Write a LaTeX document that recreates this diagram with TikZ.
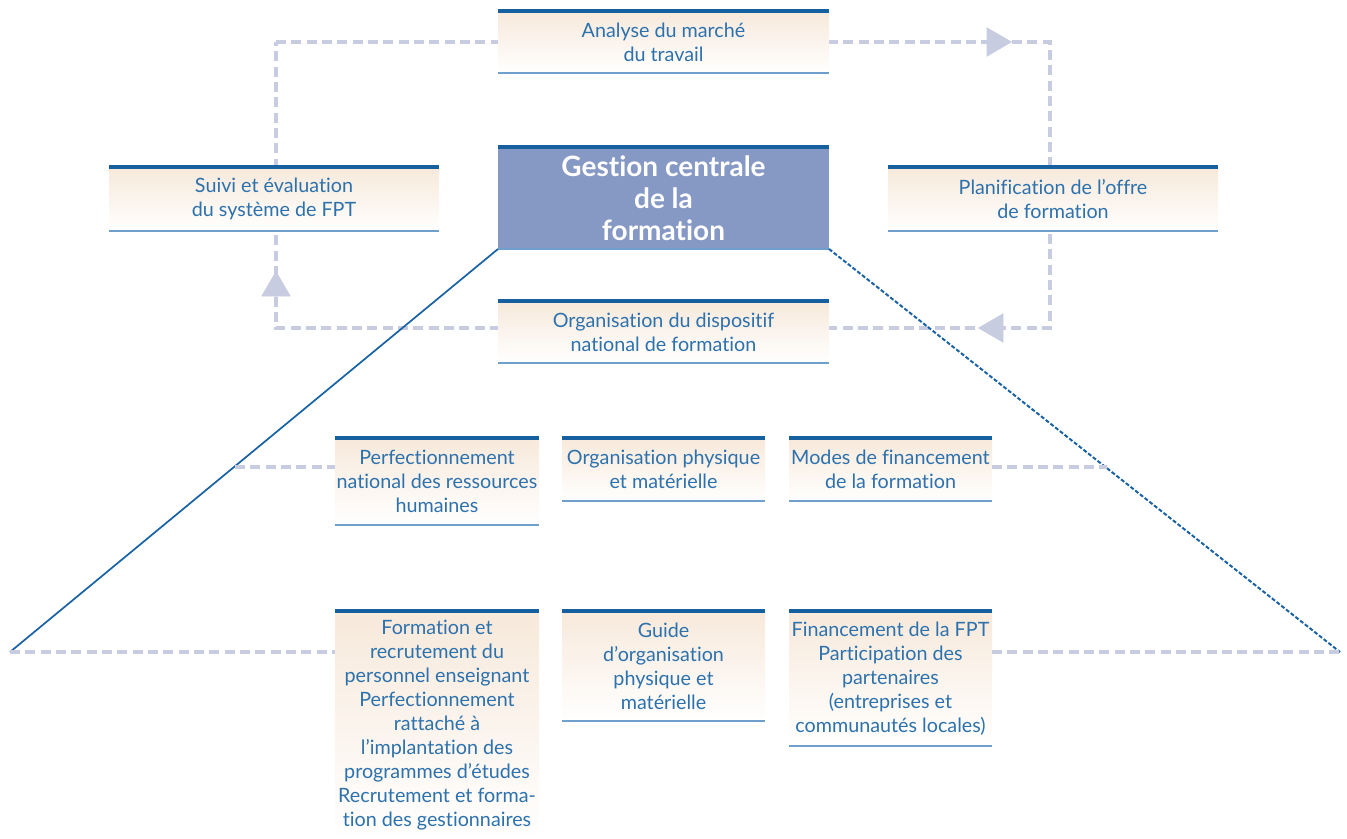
\documentclass[tikz,border=0pt]{standalone}
\usepackage{fontspec}
\setmainfont{Lato}[Ligatures={NoCommon,NoContextual}]
\usetikzlibrary{arrows.meta}
\definecolor{peach}{RGB}{247,233,219}
\definecolor{txtblue}{RGB}{45,113,173}
\definecolor{rulebl}{RGB}{22,96,160}
\definecolor{rulelt}{RGB}{111,160,204}
\definecolor{loopc}{RGB}{199,204,225}
\definecolor{centfill}{RGB}{134,152,196}
\definecolor{diagc}{RGB}{27,99,165}
\begin{document}
\begin{tikzpicture}[x=0.75pt,y=-0.75pt,
  box/.style={rectangle, inner sep=0pt, outer sep=0pt, top color=peach, bottom color=white,
    text=txtblue, align=center, font=\fontsize{14.8}{18}\selectfont},
  central/.style={rectangle, inner sep=0pt, outer sep=0pt, fill=centfill, text=white,
    align=center, font=\fontsize{21}{24}\selectfont\bfseries},
  toprule/.style={rulebl, line width=3pt},
  botrule/.style={rulelt, line width=1pt},
  loopline/.style={loopc, line width=3pt, dash pattern=on 7.5pt off 4pt},
  looptip/.style={loopc, line width=0.5pt, -{Triangle[length=19pt,width=22pt]}},
  diag/.style={diagc, line width=1.3pt},
  diagdot/.style={diagc, line width=1.5pt, dash pattern=on 3pt off 1.5pt},
  ]
\useasboundingbox (0,0) rectangle (1347,839);

% feedback loop
\coordinate (cTL) at (276,42);
\coordinate (cTR) at (1050,42);
\coordinate (cBR) at (1050,328);
\coordinate (cBL) at (276,328);
\draw[loopline] (cTL) -- (cTR) -- (cBR) -- (cBL) -- cycle;
\coordinate (a1s) at (985,42);  \coordinate (a1t) at (1012,42);
\coordinate (a2s) at (1005,328); \coordinate (a2t) at (978,328);
\coordinate (a3s) at (276,297);  \coordinate (a3t) at (276,271);
\draw[looptip] (a1s) -- (a1t);
\draw[looptip] (a2s) -- (a2t);
\draw[looptip] (a3s) -- (a3t);

% top-level boxes
\node[box, minimum width=248.25pt, minimum height=46.5pt] (am) at (663.5,42)
  {Analyse du marché\\du travail};
\node[central, minimum width=248.25pt, minimum height=76.5pt] (gc) at (663.5,198)
  {Gestion centrale\\de la\\formation};
\node[box, minimum width=247.5pt, minimum height=48pt] (se) at (274,199)
  {Suivi et évaluation\\du système de FPT};
\node[box, minimum width=247.5pt, minimum height=48pt] (pl) at (1053,199)
  {Planification de l’offre\\de formation};
\node[box, minimum width=248.25pt, minimum height=46.5pt] (od) at (663.5,332)
  {Organisation du dispositif\\national de formation};

% second row
\node[box, minimum width=153pt, minimum height=65.25pt] (p1) at (437,481.5)
  {Perfectionnement\\national des ressources\\humaines};
\node[box, minimum width=152.25pt, minimum height=47.25pt] (p2) at (663.5,469.5)
  {Organisation physique\\et matérielle};
\node[box, minimum width=152.25pt, minimum height=47.25pt] (p3) at (890.5,469.5)
  {Modes de financement\\de la formation};

% third row
\node[box, minimum width=153pt, minimum height=171.75pt] (f1) at (437,725.5)
  {Formation et\\recrutement du\\personnel enseignant\\Perfectionnement\\rattaché à\\l’implantation des\\programmes d’études\\Recrutement et forma-\\tion des gestionnaires};
\node[box, minimum width=152.25pt, minimum height=82.5pt] (f2) at (663.5,666)
  {Guide\\d’organisation\\physique et\\matérielle};
\node[box, minimum width=152.25pt, minimum height=101.25pt] (f3) at (890.5,678.5)
  {Financement de la FPT\\Participation des\\partenaires\\(entreprises et\\communautés locales)};

% rules
\foreach \n in {am,gc,se,pl,od,p1,p2,p3,f1,f2,f3}
  \draw[toprule] (\n.north west) -- (\n.north east);
\foreach \n in {am,gc,se,pl,od,p1,p2,p3,f2,f3}
  \draw[botrule] (\n.south west) -- (\n.south east);

% diagonals
\coordinate (endL) at (10,652);
\coordinate (endR) at (1340,652);
\draw[diag] (gc.south west) -- (endL);
\draw[diagdot] (gc.south east) -- (endR);

% row connectors
\coordinate (r2L) at (235,467);
\coordinate (r2R) at (1107,467);
\draw[loopline] (r2L) -- (r2L -| p1.west);
\draw[loopline] (p3.east |- r2R) -- (r2R);
\draw[loopline] (endL) -- (endL -| f1.west);
\draw[loopline] (f3.east |- endR) -- (endR);
\end{tikzpicture}
\end{document}
